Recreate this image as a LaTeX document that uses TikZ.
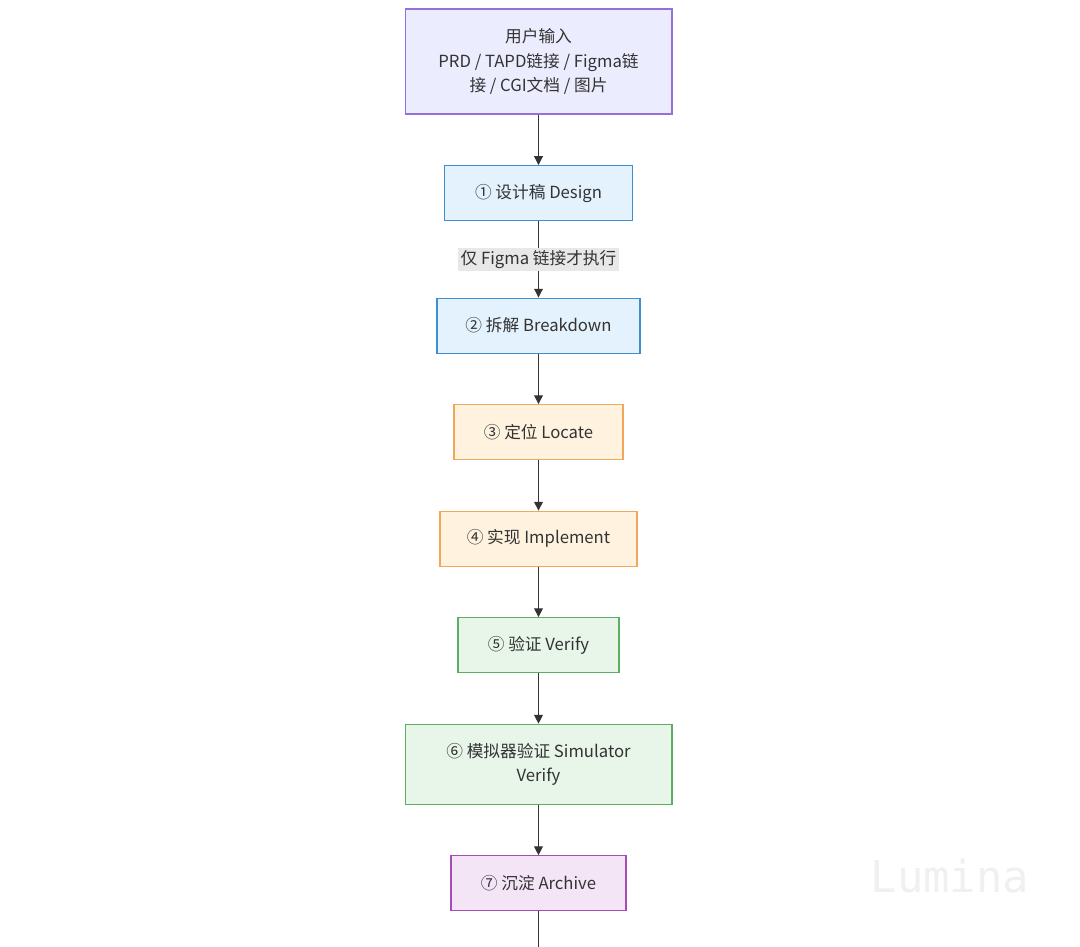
\documentclass[tikz,border=0pt]{standalone}
\usepackage{xcolor}
\usepackage{fontspec}
\setmainfont{Noto Sans CJK SC}
\newfontfamily\markfont{DejaVu Sans Mono}
\usetikzlibrary{arrows.meta, positioning}

\definecolor{txtgray}{HTML}{333333}
\definecolor{lavfill}{HTML}{ECECFF}
\definecolor{lavdraw}{HTML}{9370DB}
\definecolor{bluefill}{HTML}{E3F2FD}
\definecolor{bluedraw}{HTML}{3D8FD1}
\definecolor{orangefill}{HTML}{FFF3E0}
\definecolor{orangedraw}{HTML}{F2A65A}
\definecolor{greenfill}{HTML}{E8F5E9}
\definecolor{greendraw}{HTML}{5DAE62}
\definecolor{purplefill}{HTML}{F3E5F5}
\definecolor{purpledraw}{HTML}{A74BB8}
\definecolor{lblfill}{HTML}{E8E8E8}

\begin{document}
\begin{tikzpicture}[
    x=0.02cm, y=-0.02cm,
    node distance=1.01cm,
    box/.style={rectangle, draw, line width=0.6pt, text=txtgray,
                minimum height=1.1cm, align=center,
                font=\fontsize{9.5}{13.9}\selectfont},
    inbox/.style={box, draw=lavdraw, fill=lavfill},
    bluebox/.style={box, draw=bluedraw, fill=bluefill},
    orangebox/.style={box, draw=orangedraw, fill=orangefill},
    greenbox/.style={box, draw=greendraw, fill=greenfill},
    purplebox/.style={box, draw=purpledraw, fill=purplefill},
    arr/.style={-{Triangle[length=5pt, width=5pt]}, line width=0.6pt, draw=txtgray},
    lbl/.style={fill=lblfill, text=txtgray, inner sep=1.5pt,
                font=\fontsize{9.5}{11}\selectfont}
]
\useasboundingbox (0,0) rectangle (1080,947);

\node[inbox, minimum width=5.34cm, minimum height=2.1cm] (input) at (538.5,61.5)
    {用户输入 \\ PRD / TAPD链接 / Figma链 \\ 接 / CGI文档 / 图片};
\node[bluebox, minimum width=3.76cm, below=of input]       (design)    {① 设计稿 Design};
\node[bluebox, minimum width=4.06cm, below=1.53cm of design] (breakdown) {② 拆解 Breakdown};
\node[orangebox, minimum width=3.38cm, below=of breakdown] (locate)    {③ 定位 Locate};
\node[orangebox, minimum width=3.94cm, below=of locate]    (implement) {④ 实现 Implement};
\node[greenbox, minimum width=3.22cm, below=of implement]  (verify)    {⑤ 验证 Verify};
\node[greenbox, minimum width=5.34cm, minimum height=1.6cm, below=of verify] (simulator)
    {⑥ 模拟器验证 Simulator \\ Verify};
\node[purplebox, minimum width=3.5cm, below=of simulator]  (archive)   {⑦ 沉淀 Archive};
\coordinate (bottom) at (538.5,947);

% watermark
\node[text=black!6, font=\markfont\fontsize{25}{25}\selectfont] (mark) at (950,876) {Lumina};

\draw[arr] (input)     -- (design);
\draw[arr] (design)    -- node[lbl] {仅 Figma 链接才执行} (breakdown);
\draw[arr] (breakdown) -- (locate);
\draw[arr] (locate)    -- (implement);
\draw[arr] (implement) -- (verify);
\draw[arr] (verify)    -- (simulator);
\draw[arr] (simulator) -- (archive);
\draw[line width=0.6pt, draw=txtgray] (archive) -- (bottom);
\end{tikzpicture}
\end{document}
